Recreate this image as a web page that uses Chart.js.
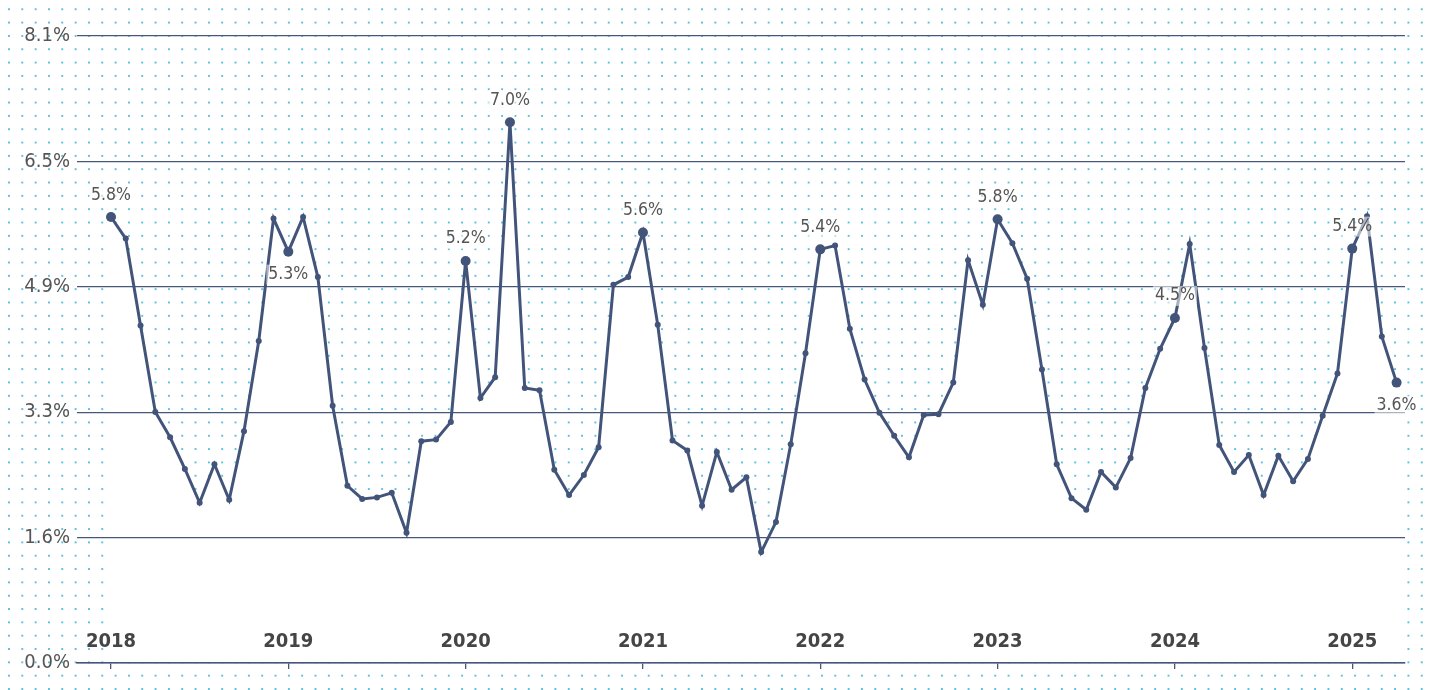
<!DOCTYPE html>
<html>
<head>
<meta charset="utf-8">
<script src="https://cdn.jsdelivr.net/npm/chart.js@4"></script>
<style>
  html, body {
    margin: 0;
    padding: 0;
    width: 1430px;
    height: 690px;
    overflow: hidden;
    background-color: #fff;
    background-image: radial-gradient(circle, #58bfe0 0.95px, rgba(255,255,255,0) 1.5px);
    background-size: 13.333px 13.333px;
    background-position: 2.3px 2.6px;
  }
  canvas { display: block; }
</style>
</head>
<body>
<canvas id="grafik" width="1430" height="690"></canvas>
<script>
// ================= DATA =================
// monthly rate, Jan 2018 .. Apr 2025
const years = ["2018", "2019", "2020", "2021", "2022", "2023", "2024", "2025"];
const rates = [
  5.79, 5.51, 4.38, 3.26, 2.93, 2.52, 2.08, 2.58, 2.12, 3.01, 4.18, 5.77, // 2018
  5.34, 5.79, 5.01, 3.34, 2.30, 2.13, 2.15, 2.21, 1.69, 2.88, 2.90, 3.13, // 2019
  5.22, 3.44, 3.71, 7.02, 3.57, 3.54, 2.51, 2.18, 2.44, 2.80, 4.91, 5.01, // 2020
  5.59, 4.39, 2.89, 2.76, 2.04, 2.74, 2.25, 2.41, 1.44, 1.83, 2.84, 4.02, // 2021
  5.37, 5.42, 4.34, 3.68, 3.25, 2.95, 2.67, 3.22, 3.23, 3.64, 5.23, 4.65, // 2022
  5.76, 5.45, 4.99, 3.81, 2.58, 2.14, 1.99, 2.48, 2.28, 2.66, 3.57, 4.08, // 2023
  4.48, 5.44, 4.09, 2.83, 2.48, 2.70, 2.18, 2.69, 2.36, 2.65, 3.21, 3.76, // 2024
  5.38, 5.80, 4.24, 3.64                                                  // 2025
];
const yTickLabels = ["0.0%", "1.6%", "3.3%", "4.9%", "6.5%", "8.1%"];
const markedMonths = [0, 12, 24, 27, 36, 48, 60, 72, 84, 87];
const labelSide = ["above", "below", "above", "above", "above", "above", "above", "above", "above", "below"];

// ================= STYLE =================
const NAVY = "#42547a";
const GRID = "#47577b";
const FONT = '"Liberation Sans Narrow", "DejaVu Sans Condensed", "Roboto", sans-serif';

// ================= LABEL TITIK =================
const pointLabels = {
  id: "pointLabels",
  afterDatasetsDraw(chart) {
    const { ctx } = chart;
    const meta = chart.getDatasetMeta(0);
    ctx.save();
    ctx.font = "17.5px " + FONT;
    ctx.textAlign = "center";
    ctx.textBaseline = "middle";
    markedMonths.forEach((i, k) => {
      const pt = meta.data[i];
      const text = rates[i].toFixed(1) + "%";
      const y = pt.y + (labelSide[k] === "below" ? 23 : -22);
      const w = ctx.measureText(text).width;
      ctx.fillStyle = "rgba(255,255,255,0.55)";
      ctx.fillRect(pt.x - w / 2 - 2, y - 10, w + 4, 20);
      ctx.fillStyle = "#555";
      ctx.fillText(text, pt.x, y);
    });
    ctx.restore();
  },
};

// ================= GRAFIK =================
new Chart(document.getElementById("grafik"), {
  type: "line",
  data: {
    datasets: [
      {
        data: rates.map((v, i) => ({ x: i, y: v })),
        borderColor: NAVY,
        borderWidth: 3,
        tension: 0,
        fill: "origin",
        backgroundColor: "#ffffff",
        pointBackgroundColor: NAVY,
        pointBorderWidth: 0,
        pointRadius: (c) => (markedMonths.includes(c.dataIndex) ? 5 : 3),
        pointHoverRadius: 5,
      },
    ],
  },
  options: {
    responsive: false,
    animation: false,
    devicePixelRatio: 1,
    layout: {
      autoPadding: false,
      padding: { top: 36, right: 25, left: 0, bottom: 0 },
    },
    plugins: {
      legend: { display: false },
      tooltip: { enabled: false },
      filler: { drawTime: "beforeDraw" },
    },
    scales: {
      x: {
        type: "linear",
        min: -2.3,
        max: 87.57,
        afterBuildTicks: (scale) => {
          scale.ticks = years.map((_, k) => ({ value: k * 12 }));
        },
        afterFit: (scale) => {
          scale.height = 27;
        },
        ticks: {
          autoSkip: false,
          maxRotation: 0,
          minRotation: 0,
          mirror: true,
          padding: 9,
          color: "#454545",
          font: { family: FONT, size: 20, weight: "bold" },
          callback: (value, index) => years[index],
        },
        grid: {
          drawOnChartArea: false,
          drawTicks: true,
          tickLength: 6,
          color: GRID,
          lineWidth: 1.3,
        },
        border: { display: true, color: GRID, width: 1.5 },
      },
      y: {
        min: 0,
        max: 8.14,
        afterBuildTicks: (scale) => {
          scale.ticks = yTickLabels.map((_, k) => ({ value: (8.14 / 5) * k }));
        },
        afterFit: (scale) => {
          scale.width = 77;
        },
        ticks: {
          padding: 7,
          color: "#555",
          font: { family: FONT, size: 20 },
          callback: (value, index) => yTickLabels[index],
        },
        grid: {
          drawTicks: false,
          color: GRID,
          lineWidth: 1.3,
        },
        border: { display: false },
      },
    },
  },
  plugins: [pointLabels],
});
</script>
</body>
</html>
